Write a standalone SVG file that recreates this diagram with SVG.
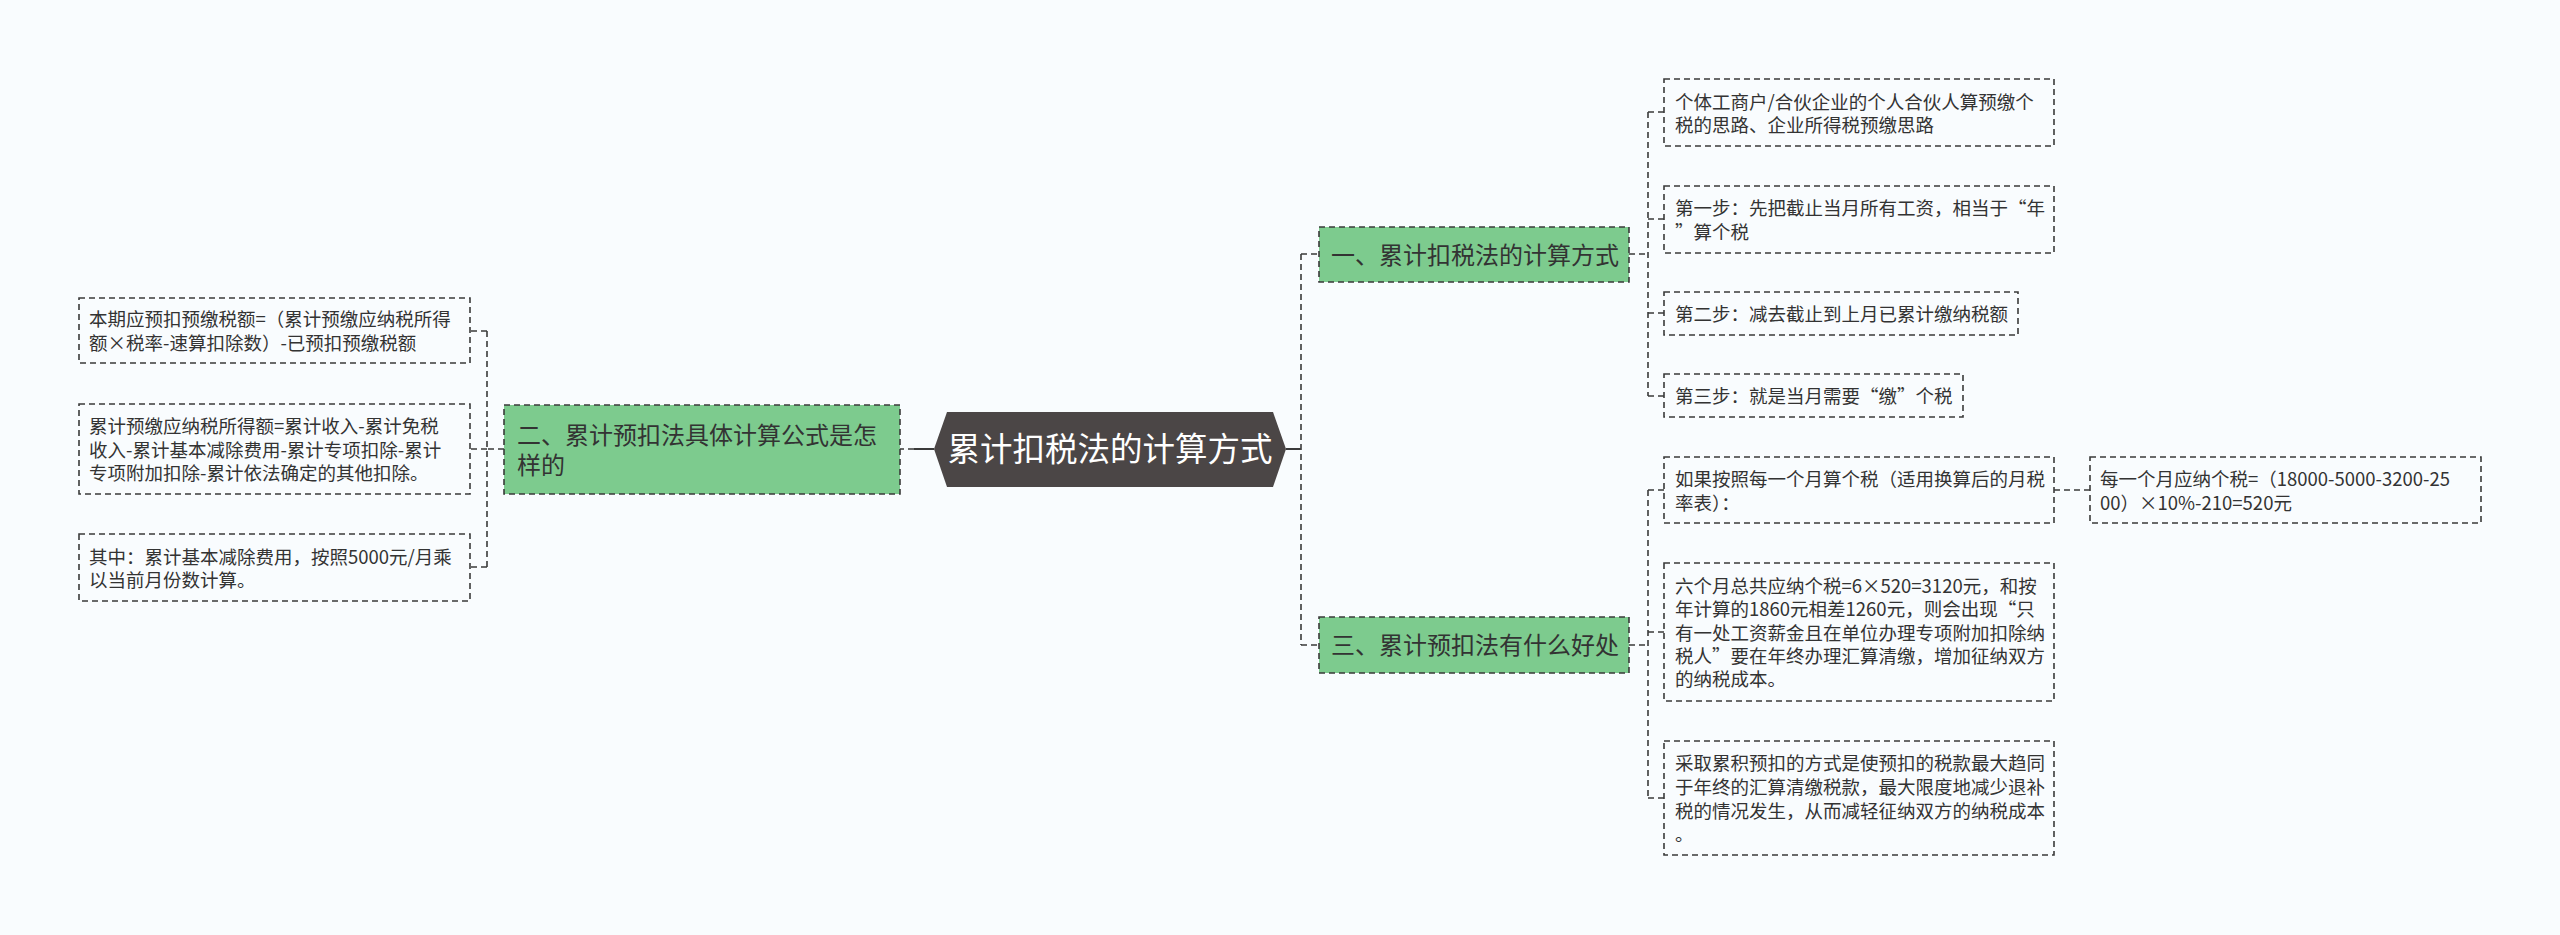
<svg xmlns="http://www.w3.org/2000/svg" width="2560" height="935" viewBox="0 0 2560 935">
<style>
text{font-family:"Noto Sans CJK SC","Noto Sans",sans-serif;fill:#333}
.leaf rect{fill:none;stroke:#3a3a3a;stroke-width:1.6;stroke-dasharray:6 4}
.leaf text{font-size:18.5px}
.main rect{fill:#7dcb8e;stroke:#3a3a3a;stroke-width:1.6;stroke-dasharray:6 4}
.main text{font-size:24px}
.conn{fill:none;stroke:#3a3a3a;stroke-width:1.6;stroke-dasharray:6 4}
.solid{fill:none;stroke:#3a3a3a;stroke-width:2}
</style>
<rect x="0" y="0" width="2560" height="935" fill="#f9fcfe"/>
<g id="connectors">
<path class="solid" d="M934 449 H914 M1286 449 H1300"/>
<path class="conn" d="M914 449 H900"/>
<path class="conn" d="M504 449 H487 M487 331 V567 M487 331 H470 M487 449 H470 M487 567 H470"/>
<path class="conn" d="M1300 449 H1301 M1301 254 V645 M1301 254 H1319 M1301 645 H1319"/>
<path class="conn" d="M1629 254 H1648 M1648 112 V396 M1648 112 H1664 M1648 219 H1664 M1648 313 H1664 M1648 396 H1664"/>
<path class="conn" d="M1629 645 H1648 M1648 490 V798 M1648 490 H1664 M1648 632 H1664 M1648 798 H1664"/>
<path class="conn" d="M2054 490 H2090"/>
</g>
<g id="root">
<polygon points="934,449 947,412 1273,412 1286,449 1273,487 947,487" fill="#4b4646"/>
<text x="1110" y="461" text-anchor="middle" style="font-size:32.5px;fill:#ffffff">累计扣税法的计算方式</text>
</g>
<g id="n2" class="main">
<rect x="504" y="405" width="396" height="89"/>
<text x="517" y="444">二、累计预扣法具体计算公式是怎</text>
<text x="517" y="474">样的</text>
</g>
<g id="n2a" class="leaf">
<rect x="79" y="298" width="391" height="65"/>
<text x="89" y="326">本期应预扣预缴税额=（累计预缴应纳税所得</text>
<text x="89" y="350">额×税率-速算扣除数）-已预扣预缴税额</text>
</g>
<g id="n2b" class="leaf">
<rect x="79" y="404" width="391" height="90"/>
<text x="89" y="433">累计预缴应纳税所得额=累计收入-累计免税</text>
<text x="89" y="457">收入-累计基本减除费用-累计专项扣除-累计</text>
<text x="89" y="480">专项附加扣除-累计依法确定的其他扣除。</text>
</g>
<g id="n2c" class="leaf">
<rect x="79" y="534" width="391" height="67"/>
<text x="89" y="564">其中：累计基本减除费用，按照5000元/月乘</text>
<text x="89" y="587">以当前月份数计算。</text>
</g>
<g id="n1" class="main">
<rect x="1319" y="227" width="310" height="55"/>
<text x="1331" y="264">一、累计扣税法的计算方式</text>
</g>
<g id="n1a" class="leaf">
<rect x="1664" y="79" width="390" height="67"/>
<text x="1675" y="109">个体工商户/合伙企业的个人合伙人算预缴个</text>
<text x="1675" y="132">税的思路、企业所得税预缴思路</text>
</g>
<g id="n1b" class="leaf">
<rect x="1664" y="186" width="390" height="67"/>
<text x="1675" y="215">第一步：先把截止当月所有工资，相当于“年</text>
<text x="1675" y="239">”算个税</text>
</g>
<g id="n1c" class="leaf">
<rect x="1664" y="292" width="354" height="43"/>
<text x="1675" y="321">第二步：减去截止到上月已累计缴纳税额</text>
</g>
<g id="n1d" class="leaf">
<rect x="1664" y="374" width="299" height="43"/>
<text x="1675" y="403">第三步：就是当月需要“缴”个税</text>
</g>
<g id="n3" class="main">
<rect x="1319" y="617" width="310" height="56"/>
<text x="1331" y="654">三、累计预扣法有什么好处</text>
</g>
<g id="n3a" class="leaf">
<rect x="1664" y="457" width="390" height="66"/>
<text x="1675" y="486">如果按照每一个月算个税（适用换算后的月税</text>
<text x="1675" y="510">率表）：</text>
</g>
<g id="n3a1" class="leaf">
<rect x="2090" y="457" width="391" height="66"/>
<text x="2100" y="486">每一个月应纳个税=（18000-5000-3200-25</text>
<text x="2100" y="510">00）×10%-210=520元</text>
</g>
<g id="n3b" class="leaf">
<rect x="1664" y="563" width="390" height="138"/>
<text x="1675" y="593">六个月总共应纳个税=6×520=3120元，和按</text>
<text x="1675" y="616">年计算的1860元相差1260元，则会出现“只</text>
<text x="1675" y="640">有一处工资薪金且在单位办理专项附加扣除纳</text>
<text x="1675" y="663">税人”要在年终办理汇算清缴，增加征纳双方</text>
<text x="1675" y="686">的纳税成本。</text>
</g>
<g id="n3c" class="leaf">
<rect x="1664" y="741" width="390" height="114"/>
<text x="1675" y="770">采取累积预扣的方式是使预扣的税款最大趋同</text>
<text x="1675" y="794">于年终的汇算清缴税款，最大限度地减少退补</text>
<text x="1675" y="818">税的情况发生，从而减轻征纳双方的纳税成本</text>
<text x="1675" y="841">。</text>
</g>
</svg>
